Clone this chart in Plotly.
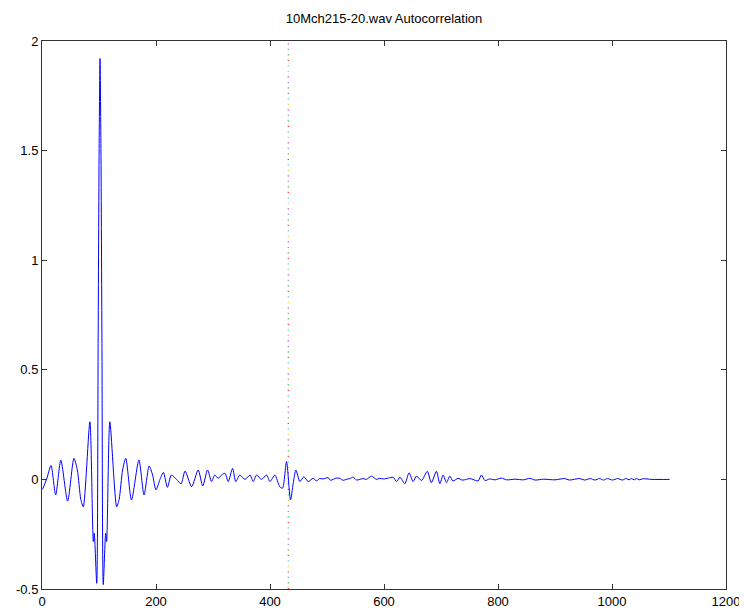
import plotly.graph_objects as go

title_text = "10Mch215-20.wav Autocorrelation"

lag = [1, 8, 15.8, 24, 33, 45, 56, 62, 68, 72.4, 84, 90, 91.7, 96, 98.5, 100.2, 101.8, 103.4,
       105.2, 107.5, 111.7, 113.4, 119, 131, 135.4, 141.4, 147, 157, 170, 179, 188, 194, 200,
       207, 213, 220, 227, 236, 244, 251, 262.5, 274, 282, 290.5, 297.5, 303, 309, 315, 321,
       326.7, 334.3, 340, 347, 356, 365, 370.5, 376.5, 385, 394, 400, 408.5, 417, 422, 429,
       436, 440.7, 445.4, 452.4, 459.4, 467, 475.7, 481.6, 487, 493, 502, 506, 510.8, 516,
       522.5, 528, 534, 540, 546, 552, 557.6, 563, 569, 578, 586.9, 592, 598.5, 608, 616, 622,
       628, 636.5, 644, 651, 657, 665.8, 676, 683, 692, 698, 703.7, 709.6, 715.4, 721, 730,
       737, 744.7, 750, 756, 765, 771, 777, 785.5, 795, 806, 815, 830, 845, 856, 865, 880,
       900, 917, 925, 943, 952, 962, 970, 978, 985, 992, 1001, 1010, 1018, 1025, 1030, 1034,
       1039, 1043, 1048, 1054, 1070, 1101]

acorr = [-0.045, 0.0, 0.063, -0.071, 0.088, -0.099, 0.096, 0.043, -0.09, -0.125, 0.263, -0.284,
         -0.245, -0.474, 0.62, 1.51, 1.92, 1.51, 0.62, -0.48, -0.245, -0.284, 0.263, -0.125,
         -0.09, 0.043, 0.096, -0.094, 0.089, -0.071, 0.061, 0.02, -0.048, 0.0, 0.032, -0.036,
         0.02, 0.0, -0.02, 0.038, -0.033, 0.043, -0.03, 0.043, -0.01, 0.02, 0.005, 0.02, 0.028,
         -0.01, 0.05, -0.01, 0.02, 0.0, 0.02, -0.01, 0.02, 0.0, 0.02, -0.01, 0.02, -0.033,
         -0.04, 0.081, -0.094, -0.018, 0.043, -0.01, 0.012, -0.01, 0.005, -0.007, 0.004, 0.002,
         0.008, -0.004, 0.0, 0.006, 0.005, -0.004, 0.0, 0.004, 0.01, -0.003, 0.0, 0.004, 0.0,
         0.015, 0.0, 0.005, 0.002, 0.006, 0.01, -0.01, 0.01, -0.02, 0.03, -0.01, 0.015, -0.005,
         0.037, -0.015, 0.037, -0.02, 0.02, -0.015, 0.015, -0.007, 0.005, -0.003, 0.0, 0.004,
         0.0, -0.007, 0.02, -0.005, 0.002, -0.002, 0.006, -0.002, 0.001, -0.002, 0.005, -0.003,
         0.001, -0.002, 0.004, -0.003, 0.004, -0.003, 0.004, -0.003, 0.004, -0.003, 0.004,
         -0.003, 0.004, -0.003, 0.004, -0.002, 0.004, -0.002, 0.004, -0.002, 0.003, 0.0, 0.0]

marker_lag = 432
marker_span = [-0.5, 2.0]
marker_colors = ["#ff0000", "#00aa00", "#6666ff", "#cc00cc", "#cccc00", "#00cccc"]

x_ticks = [0, 200, 400, 600, 800, 1000, 1200]
y_ticks = [-0.5, 0, 0.5, 1, 1.5, 2]
y_tick_labels = ["-0.5", "0", "0.5", "1", "1.5", "2"]

fig = go.Figure()

period = 6 * 5.5
for i, c in enumerate(marker_colors):
    off = i * 5.5
    fig.add_trace(go.Scatter(
        x=[marker_lag, marker_lag], y=marker_span, mode="lines",
        line=dict(color=c, width=1, dash=f"0px,{off}px,1.2px,{period - off - 1.2}px"),
        hoverinfo="skip", showlegend=False))

fig.add_trace(go.Scatter(x=lag, y=acorr, mode="lines",
                         line=dict(color="#0000ff", width=1, shape="spline", smoothing=0.7),
                         showlegend=False))

axis_common = dict(showgrid=False, zeroline=False, showline=True, linecolor="#333333",
                   linewidth=1, mirror="ticks", ticks="inside", ticklen=5, automargin=False,
                   tickcolor="#333333", tickfont=dict(family="Liberation Sans, Arial",
                                                       size=13, color="black"))

W, H = 739, 608
fig.update_layout(
    width=W, height=H, autosize=False,
    margin=dict(l=34, r=21, t=33, b=27, autoexpand=False),
    paper_bgcolor="white", plot_bgcolor="white",
    title=dict(text=title_text, x=0.5, xref="paper", y=1 - 10 / H, yanchor="middle",
               automargin=False,
               font=dict(family="Liberation Sans, Arial", size=13, color="black")),
    xaxis=dict(range=[0, 1200], tickvals=x_ticks, **axis_common),
    yaxis=dict(range=[-0.5, 2], tickvals=y_ticks, ticktext=y_tick_labels, **axis_common),
)

fig.write_html("out.html")
